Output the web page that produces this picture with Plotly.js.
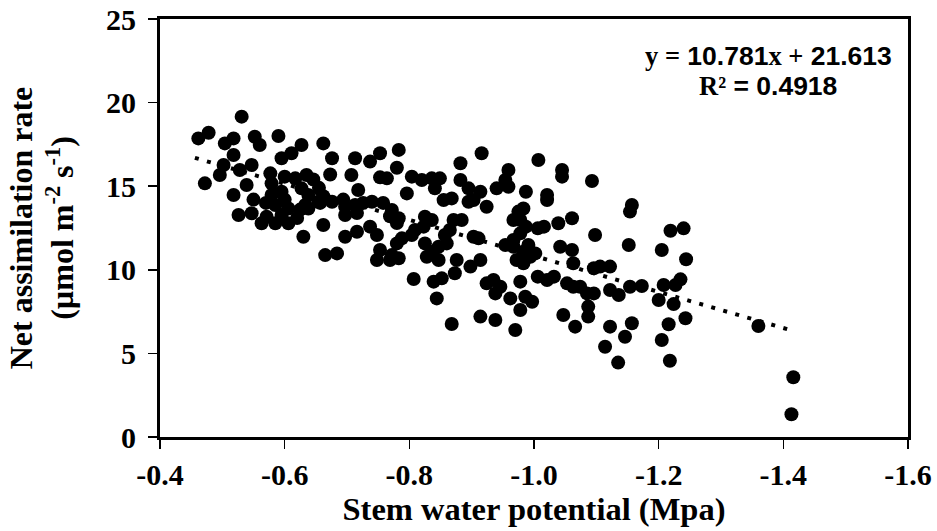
<!DOCTYPE html>
<html>
<head>
<meta charset="utf-8">
<script src="https://cdn.plot.ly/plotly-3.0.1.min.js"></script>
<style>html,body{margin:0;padding:0;background:#fff}#chart{width:937px;height:531px}</style>
</head>
<body>
<div id="chart"></div>
<script>
// Stem water potential (Mpa)
const swp = [
-0.531,-0.4615,-0.478,-0.504,-0.518,-0.552,-0.56,-0.59,-0.627,-0.611,
-0.595,-0.518,-0.502,-0.547,-0.528,-0.472,-0.496,-0.539,-0.577,-0.579,
-0.6,-0.617,-0.635,-0.518,-0.579,-0.595,-0.627,-0.638,-0.585,-0.606,
-0.633,-0.526,-0.547,-0.563,-0.585,-0.606,-0.63,-0.571,-0.595,
-0.662,-0.676,-0.713,-0.737,-0.753,-0.783,-0.707,-0.753,-0.764,-0.78,
-0.718,-0.662,-0.665,-0.684,-0.697,-0.716,-0.737,-0.748,-0.748,-0.769,
-0.78,-0.646,-0.673,-0.662,-0.694,-0.726,-0.758,-0.625,-0.657,-0.716,
-0.769,-0.78,
-0.804,-0.82,-0.796,-0.836,-0.654,-0.676,-0.697,-0.713,-0.74,-0.772,
-0.783,-0.638,-0.697,-0.753,-0.772,-0.783,-0.788,-0.804,-0.809,-0.825,
-0.836,-0.825,-0.838,-0.807,
-0.916,-1.007,-1.045,-1.045,-1.093,-0.882,-0.959,-0.849,-0.841,-0.855,
-0.868,-0.882,-0.895,-0.903,-0.914,-0.924,-0.94,-0.959,-0.954,-0.987,
-1.021,-1.021,-0.983,-0.823,-0.871,-0.884,-0.865,-0.857,-0.903,-0.911,
-0.967,-0.978,-0.987,-1.006,-1.016,-1.039,-1.061,-1.098,-1.152,-0.828,
-0.847,-0.876,-0.847,-0.86,-0.898,-0.914,-0.954,-0.967,-0.983,-0.991,
-0.972,-0.983,-0.994,-1.042,-1.061,-1.063,-1.096,-1.106,-1.122,
-0.844,-0.839,-0.852,-0.924,-0.935,-0.946,-0.938,-0.962,-0.978,-0.986,
-0.978,-0.997,-1.006,-1.021,-1.032,-1.053,-1.063,-1.074,-1.085,-1.096,
-1.122,-1.136,-1.087,-1.087,-0.914,-0.938,-0.868,-0.97,-1.047,-1.066,
-1.122,-1.146,-1.114,-1.135,
-1.157,-1.154,-1.219,-1.24,-1.205,-1.244,-1.154,-1.173,-1.208,-1.235,
-1.227,-1.2,-1.224,-1.243,-1.216,-1.157,-1.205,-1.218,-1.36,-1.416,-1.413,
-0.895,-0.975,-0.967,-0.978,-1.002,-0.873,
-0.55,-0.57,-0.6,-0.62,-0.655
];
// Net assimilation rate (umol m-2 s-1)
const anet = [
19.16,17.86,18.2,17.56,17.86,17.96,17.46,18.0,17.46,16.97,
16.67,16.87,16.27,16.27,15.97,15.17,15.67,15.07,15.77,15.17,
15.57,15.47,15.67,14.47,14.47,14.67,14.87,14.47,13.88,13.67,
13.88,13.28,13.38,12.78,12.78,12.78,11.98,13.18,13.28,
17.56,16.67,16.67,16.47,16.97,17.17,15.67,15.53,15.47,16.1,
14.77,12.68,10.88,10.98,11.98,12.28,12.58,12.08,10.59,10.59,
11.58,15.4,15.7,14.4,14.2,14.0,14.0,13.6,14.0,13.4,
13.2,12.8,
15.57,15.37,14.57,15.47,14.07,14.07,13.77,13.88,14.07,13.58,
13.08,13.67,13.28,11.18,10.88,10.69,11.88,12.08,12.38,13.18,
12.98,11.58,11.08,9.45,
16.97,16.57,15.97,15.57,15.31,16.37,15.97,15.47,14.87,14.17,
14.27,15.37,14.87,14.17,14.67,13.77,14.87,14.97,15.37,14.67,
14.47,14.17,13.67,12.58,12.98,12.98,12.38,12.08,11.98,11.88,
12.98,12.98,12.58,12.48,12.58,12.78,13.08,12.08,11.48,10.78,
10.59,10.59,11.38,11.58,10.19,10.59,11.48,11.38,11.08,11.48,
10.59,10.39,10.78,11.38,11.18,10.39,10.09,10.19,10.19,
8.29,9.29,9.49,9.19,9.39,8.99,8.59,8.29,9.29,8.39,
7.6,8.09,9.59,9.39,9.59,9.19,8.99,8.99,8.59,8.59,
8.79,8.49,7.8,7.2,7.2,7.0,6.76,6.4,7.3,6.6,
6.6,6.0,5.4,4.45,
13.88,13.48,12.34,12.48,11.18,10.63,8.99,9.03,9.09,9.43,
9.09,8.19,7.95,7.1,6.74,6.8,5.8,4.56,6.64,3.57,1.36,
14.07,13.48,11.78,12.18,10.98,9.79,
14.2,14.0,14.2,13.1,14.9
];
// Linear trendline shown on the chart
const trendSlope = 10.781;
const trendIntercept = 21.613;
const trendX = [-0.456, -1.41];
const trendY = trendX.map(v => trendSlope * v + trendIntercept);

const xTickVals = [-0.4, -0.6, -0.8, -1.0, -1.2, -1.4, -1.6];
const xTickText = ['-0.4', '-0.6', '-0.8', '-1.0', '-1.2', '-1.4', '-1.6'];
const yTickVals = [0, 5, 10, 15, 20, 25];
const yTickText = ['0', '5', '10', '15', '20', '25'];

const serif = 'Liberation Serif, Times New Roman, serif';
const sans = 'Liberation Sans, Arial, sans-serif';

const traces = [
  {
    x: swp, y: anet, type: 'scatter', mode: 'markers',
    marker: {color: '#000', size: 14, line: {width: 0}},
    hoverinfo: 'x+y', showlegend: false
  },
  {
    x: trendX, y: trendY, type: 'scatter', mode: 'lines',
    line: {color: '#000', width: 4, dash: '4px,8.5px'},
    hoverinfo: 'skip', showlegend: false
  }
];

const layout = {
  width: 937, height: 531,
  margin: {l: 160, r: 29, t: 19, b: 94},
  paper_bgcolor: '#fff', plot_bgcolor: '#fff',
  font: {family: serif, color: '#000'},
  xaxis: {
    range: [-0.4, -1.6],
    tickmode: 'array',
    tickvals: xTickVals, ticktext: xTickText,
    ticks: 'outside', ticklen: 9, tickwidth: 1.5, tickcolor: '#000',
    showline: true, linewidth: 3, linecolor: '#000', mirror: true,
    showgrid: false, zeroline: false,
    tickfont: {family: serif, size: 30, weight: 700, color: '#000'},
    title: {text: 'Stem water potential (Mpa)', font: {family: serif, size: 32.5, weight: 700, color: '#000'}, standoff: 5}
  },
  yaxis: {
    range: [0, 25],
    tickmode: 'array',
    tickvals: yTickVals, ticktext: yTickText,
    ticks: 'outside', ticklen: 9, tickwidth: 1.5, tickcolor: '#000',
    ticklabelstandoff: 6,
    showline: true, linewidth: 3, linecolor: '#000', mirror: true,
    showgrid: false, zeroline: false,
    tickfont: {family: serif, size: 30, weight: 700, color: '#000'},
    title: {text: 'Net assimilation rate<br>(µmol m<sup>-2</sup> s<sup>-1</sup>)', font: {family: serif, size: 32, weight: 700, color: '#000'}, standoff: 23}
  },
  annotations: [
    {
      xref: 'paper', yref: 'paper', x: 0.813, y: 0.912, xanchor: 'center', yanchor: 'middle', showarrow: false,
      text: '<span style="font-family:\'Liberation Serif\'">y =</span> 10.781<span style="font-family:\'Liberation Serif\'">x +</span> 21.613',
      font: {family: sans, size: 26.5, weight: 700, color: '#000'}
    },
    {
      xref: 'paper', yref: 'paper', x: 0.813, y: 0.84, xanchor: 'center', yanchor: 'middle', showarrow: false,
      text: '<span style="font-family:\'Liberation Serif\'">R²</span> = 0.4918',
      font: {family: sans, size: 26.5, weight: 700, color: '#000'}
    }
  ]
};

Plotly.newPlot('chart', traces, layout, {displayModeBar: false, staticPlot: true});
</script>
</body>
</html>
